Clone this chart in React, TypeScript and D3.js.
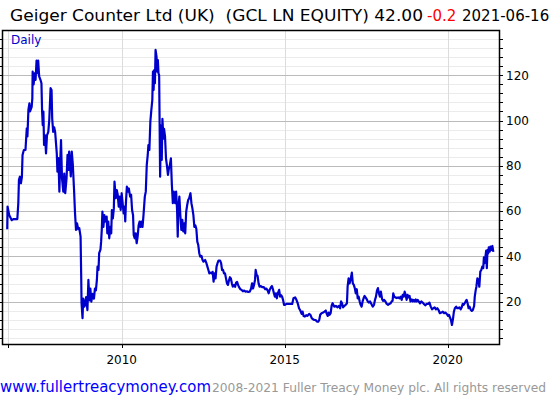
import React from "react";
import * as d3 from "d3";

// Decimal-year dates and closing prices (GBp)
const years: number[] = [
  2006.49, 2006.5, 2006.55, 2006.63, 2006.68, 2006.8, 2006.83, 2006.85, 2006.88, 2006.91, 2006.94, 2006.96,
  2007.0, 2007.05, 2007.09, 2007.11, 2007.14, 2007.17, 2007.19, 2007.24, 2007.26, 2007.27, 2007.3, 2007.33,
  2007.36, 2007.39, 2007.41, 2007.44, 2007.47, 2007.51, 2007.54, 2007.56, 2007.58, 2007.6, 2007.62, 2007.65,
  2007.68, 2007.71, 2007.75, 2007.78, 2007.82, 2007.85, 2007.87, 2007.9, 2007.93, 2007.96, 2008.01, 2008.03,
  2008.06, 2008.09, 2008.11, 2008.14, 2008.17, 2008.21, 2008.24, 2008.27, 2008.31, 2008.34, 2008.37, 2008.39,
  2008.44, 2008.47, 2008.5, 2008.54, 2008.57, 2008.6, 2008.63, 2008.67, 2008.7, 2008.74, 2008.76, 2008.77,
  2008.8, 2008.82, 2008.86, 2008.91, 2008.95, 2008.98, 2009.01, 2009.04, 2009.07, 2009.11, 2009.15, 2009.18,
  2009.21, 2009.24, 2009.26, 2009.29, 2009.31, 2009.35, 2009.37, 2009.39, 2009.41, 2009.44, 2009.47, 2009.5,
  2009.54, 2009.56, 2009.59, 2009.62, 2009.65, 2009.68, 2009.7, 2009.73, 2009.76, 2009.78, 2009.82, 2009.85,
  2009.88, 2009.91, 2009.94, 2009.97, 2010.0, 2010.03, 2010.06, 2010.09, 2010.11, 2010.13, 2010.16, 2010.19,
  2010.22, 2010.26, 2010.29, 2010.32, 2010.35, 2010.37, 2010.4, 2010.43, 2010.46, 2010.49, 2010.52, 2010.55,
  2010.58, 2010.61, 2010.64, 2010.67, 2010.71, 2010.74, 2010.77, 2010.8, 2010.82, 2010.85, 2010.88, 2010.91,
  2010.94, 2010.96, 2010.98, 2011.0, 2011.02, 2011.04, 2011.07, 2011.09, 2011.11, 2011.13, 2011.15, 2011.18,
  2011.2, 2011.23, 2011.25, 2011.28, 2011.3, 2011.33, 2011.36, 2011.39, 2011.42, 2011.45, 2011.48, 2011.51,
  2011.54, 2011.57, 2011.6, 2011.64, 2011.67, 2011.7, 2011.72, 2011.74, 2011.77, 2011.8, 2011.83, 2011.86,
  2011.89, 2011.92, 2011.95, 2011.98, 2012.01, 2012.04, 2012.07, 2012.11, 2012.14, 2012.17, 2012.2, 2012.23,
  2012.26, 2012.29, 2012.32, 2012.35, 2012.38, 2012.41, 2012.45, 2012.48, 2012.51, 2012.56, 2012.6, 2012.63,
  2012.66, 2012.69, 2012.73, 2012.76, 2012.79, 2012.82, 2012.85, 2012.88, 2012.91, 2012.94, 2012.97, 2013.02,
  2013.05, 2013.08, 2013.11, 2013.14, 2013.17, 2013.2, 2013.23, 2013.26, 2013.29, 2013.32, 2013.35, 2013.38,
  2013.41, 2013.45, 2013.48, 2013.51, 2013.54, 2013.57, 2013.6, 2013.64, 2013.68, 2013.72, 2013.76, 2013.8,
  2013.84, 2013.88, 2013.93, 2013.97, 2014.0, 2014.03, 2014.06, 2014.09, 2014.11, 2014.14, 2014.17, 2014.2,
  2014.23, 2014.27, 2014.31, 2014.36, 2014.4, 2014.44, 2014.48, 2014.51, 2014.54, 2014.58, 2014.61, 2014.64,
  2014.67, 2014.7, 2014.73, 2014.76, 2014.79, 2014.83, 2014.86, 2014.89, 2014.92, 2014.95, 2014.98, 2015.01,
  2015.05, 2015.11, 2015.17, 2015.23, 2015.27, 2015.32, 2015.36, 2015.4, 2015.44, 2015.48, 2015.52, 2015.55,
  2015.58, 2015.62, 2015.66, 2015.7, 2015.75, 2015.79, 2015.83, 2015.87, 2015.91, 2015.95, 2015.99, 2016.03,
  2016.06, 2016.09, 2016.13, 2016.18, 2016.22, 2016.26, 2016.29, 2016.32, 2016.35, 2016.38, 2016.41, 2016.44,
  2016.47, 2016.52, 2016.57, 2016.62, 2016.66, 2016.7, 2016.73, 2016.76, 2016.79, 2016.83, 2016.87, 2016.91,
  2016.93, 2016.96, 2016.99, 2017.02, 2017.06, 2017.09, 2017.12, 2017.15, 2017.18, 2017.21, 2017.24, 2017.27,
  2017.3, 2017.33, 2017.36, 2017.39, 2017.42, 2017.45, 2017.48, 2017.52, 2017.55, 2017.58, 2017.62, 2017.66,
  2017.7, 2017.74, 2017.77, 2017.8, 2017.83, 2017.86, 2017.89, 2017.92, 2017.95, 2017.99, 2018.02, 2018.05,
  2018.09, 2018.13, 2018.17, 2018.21, 2018.25, 2018.28, 2018.31, 2018.33, 2018.36, 2018.39, 2018.44, 2018.48,
  2018.52, 2018.56, 2018.59, 2018.62, 2018.65, 2018.68, 2018.71, 2018.74, 2018.77, 2018.8, 2018.83, 2018.86,
  2018.9, 2018.93, 2018.96, 2018.99, 2019.02, 2019.05, 2019.08, 2019.11, 2019.15, 2019.19, 2019.23, 2019.27,
  2019.31, 2019.36, 2019.4, 2019.44, 2019.48, 2019.52, 2019.56, 2019.6, 2019.64, 2019.68, 2019.72, 2019.76,
  2019.81, 2019.85, 2019.89, 2019.93, 2019.97, 2020.01, 2020.04, 2020.07, 2020.1, 2020.13, 2020.16, 2020.19,
  2020.22, 2020.26, 2020.29, 2020.32, 2020.36, 2020.4, 2020.43, 2020.46, 2020.49, 2020.52, 2020.55, 2020.58,
  2020.61, 2020.64, 2020.67, 2020.71, 2020.74, 2020.77, 2020.81, 2020.83, 2020.86, 2020.88, 2020.91, 2020.94,
  2020.97, 2021.0, 2021.03, 2021.06, 2021.09, 2021.11, 2021.13, 2021.16, 2021.18, 2021.2, 2021.22, 2021.24,
  2021.26, 2021.29, 2021.31, 2021.34, 2021.37, 2021.4,
];

const prices: number[] = [
  52, 62, 58.3, 56, 56.5, 56.5, 63.5, 73.8, 75.2, 72.3, 75, 84.8,
  87, 87, 96.6, 93, 104.7, 107.6, 104, 106, 109.8, 121.6, 116, 120.9,
  118, 126.5, 120.9, 126.5, 119.5, 118, 116.5, 104, 98, 104, 89.2, 93.5,
  85.5, 93.5, 95, 100.3, 114.3, 113.5, 100.8, 95, 97, 95, 85.5, 77.4,
  83.4, 68.6, 79.5, 91.4, 74.6, 68.6, 76.6, 67.9, 74.6, 84.9, 78.2, 86.3,
  75.3, 86.3, 81, 69.3, 59, 51.7, 54.6, 52, 52.5, 48.7, 30.3, 19.3,
  12.7, 21.3, 17.8, 22, 16.3, 29.6, 20.6, 25.8, 20, 23.5, 21.3, 25.8,
  25, 29.6, 35.5, 34, 41.4, 43, 46.5, 51.7, 59.8, 53, 58.2, 55.4,
  57.6, 50.2, 55.4, 48, 53, 50.2, 60.5, 56.8, 61.2, 73, 65.7, 69.3,
  67.2, 62, 66.4, 60.5, 67.9, 63.5, 59, 62, 55.4, 63.5, 70.8, 68.6,
  70, 66.4, 67.2, 60.5, 58.2, 49.5, 48, 50.2, 45.8, 48.7, 53.7, 55.4,
  53, 55.4, 53, 58.2, 66.4, 68.6, 80.4, 84.8, 89.2, 87, 99.5, 104.6,
  109, 121.6, 113.5, 122.3, 116.5, 131.2, 128.2, 121.6, 126.7, 120.9, 120, 75.2,
  97.8, 82.6, 100.8, 92, 96.3, 93, 83.3, 80, 76, 78.9, 80.4, 83.3,
  71.6, 63.5, 68.6, 63.5, 68.6, 60.5, 48.7, 62, 66.4, 58.2, 51.7, 56.1,
  51, 54.6, 50.2, 59.8, 62.7, 64.9, 65.7, 67.9, 63.5, 61.2, 58.2, 53,
  53.7, 52.2, 46.5, 45, 41.4, 39.9, 40.2, 38.4, 37.7, 38.4, 37, 35.5,
  34, 32.5, 32.8, 32.5, 33.2, 28.8, 32.5, 30.3, 35.5, 37, 38.1, 38.1,
  37, 34, 34, 32.5, 32.5, 30.3, 28.1, 27.4, 29.3, 30.8, 30.3, 28.1,
  26.6, 27.4, 26.6, 28.4, 28.7, 27.4, 26.4, 25.5, 25.2, 24.6, 24.9, 24.4,
  24.6, 24.3, 24.4, 25.8, 28.1, 25.8, 27.4, 29.6, 34, 31.8, 31.3, 28.1,
  26.6, 26.9, 26.4, 26.4, 25.5, 25.8, 24.9, 23.7, 25.2, 26.4, 26.9, 25.5,
  23.7, 22.2, 23.7, 21.5, 23.7, 25.2, 22.2, 22.9, 22.2, 20.8, 18.6, 18.6,
  19, 19, 19, 19, 21.5, 21.9, 20.8, 19.3, 17.1, 16.1, 14.6, 15.6,
  13.7, 13.4, 14, 13.7, 14.6, 14.2, 12.7, 12.2, 11.9, 11.9, 11.2, 11.2,
  11.9, 14.2, 14.9, 15.2, 15.6, 16.1, 14.6, 13.7, 15.2, 14.2, 14.9, 18.2,
  19.3, 17.8, 18.1, 17.5, 18.1, 17.1, 20.1, 19.3, 17.5, 18.1, 18.6, 19.3,
  26.6, 30.3, 28.1, 29.6, 32.8, 28.1, 27.4, 26, 23.7, 25.5, 21.5, 22.2,
  20.1, 18.6, 17.8, 20.1, 21.5, 22.5, 21.9, 21, 20.1, 19.6, 20.1, 19,
  17.8, 18.6, 20.8, 22.2, 24.9, 26, 23.7, 22.2, 24.4, 21, 20.4, 20.8,
  20.1, 19, 18.6, 19, 19.3, 20.1, 20.4, 23.7, 22.2, 21.9, 21.6, 21.9,
  21.5, 22.2, 20.8, 23, 22.2, 24.4, 23, 20.8, 23, 21.9, 22.5, 20.1,
  21, 20.1, 20.8, 20.1, 21, 20.1, 20.8, 20.1, 19.3, 20.1, 19.6, 19,
  18.4, 19, 19, 19.6, 17.8, 16.6, 17.1, 17.5, 16.6, 17.1, 16.3, 14.9,
  15.2, 15.6, 14.9, 15.2, 14.6, 13.7, 14.2, 13.1, 11.9, 9.7, 12.2, 15.6,
  17.1, 17.8, 17.1, 17.1, 17.5, 16.6, 17.5, 19, 18.6, 19.3, 20.1, 20.8,
  19.3, 17.1, 17.8, 16.3, 15.9, 16.3, 18.1, 22.2, 25.2, 26.6, 30.3, 29.6,
  26.6, 33.3, 34, 35.5, 34.8, 39.6, 37, 40.2, 42.5, 34.8, 42.8, 41.3,
  44, 42.1, 44.3, 42.8, 44.6, 42,
];

const yearTicks: number[] = [2006.5, 2010, 2015, 2020];
const yearTickLabels: string[] = ["", "2010", "2015", "2020"];
const priceMajorTicks: number[] = [20, 40, 60, 80, 100, 120];
const priceMinorStep = 4;

const titleMain = "Geiger Counter Ltd (UK)  (GCL LN EQUITY) 42.00";
const titleChange = "-0.2";
const titleDate = "2021-06-16";
const seriesLabel = "Daily";
const footerLink = "www.fullertreacymoney.com";
const footerCopy = "2008-2021 Fuller Treacy Money plc. All rights reserved";

const W = 550;
const H = 400;
const plot = { left: 2, right: 500, top: 30, bottom: 344 };
const FONT = "'DejaVu Sans', Verdana, sans-serif";
const LINE = "#0000cc";

export default function App() {
  const x = d3.scaleLinear().domain([2006.33, 2021.604]).range([plot.left, plot.right]);
  const y = d3.scaleLinear().domain([1.3, 140]).range([plot.bottom, plot.top]);

  const minorTicks = d3.range(priceMinorStep, 140, priceMinorStep);
  const data = years.map((yr, i) => ({ yr, v: prices[i] }));
  const line = d3
    .line<{ yr: number; v: number }>()
    .x((d) => x(d.yr))
    .y((d) => y(d.v));

  return (
    <svg
      width={W}
      height={H}
      style={{ position: "absolute", left: 0, top: 0, background: "#fff" }}
      fontFamily={FONT}
    >
      <rect x={0} y={0} width={W} height={H} fill="#fff" />
      {/* title */}
      <text x={10} y={21} fontSize={15} fill="#000" xmlSpace="preserve" textLength={413} lengthAdjust="spacingAndGlyphs">
        {titleMain}
      </text>
      <text x={427} y={21} fontSize={15} fill="#ff0000">
        {titleChange}
      </text>
      <text x={462} y={21} fontSize={15} fill="#000">
        {titleDate}
      </text>

      {/* minor horizontal grid */}
      {minorTicks
        .filter((t) => t % 20 !== 0)
        .map((t) => (
          <line key={"mg" + t} x1={plot.left} x2={plot.right} y1={Math.round(y(t)) + 0.5} y2={Math.round(y(t)) + 0.5} stroke="#ebebeb" strokeWidth={1} />
        ))}
      {/* vertical grid */}
      {yearTicks.map((t) => (
        <line key={"vg" + t} x1={Math.round(x(t)) + 0.5} x2={Math.round(x(t)) + 0.5} y1={plot.top} y2={plot.bottom} stroke="#dcdcdc" strokeWidth={1} />
      ))}
      {/* major horizontal grid */}
      {priceMajorTicks.map((t) => (
        <line key={"Mg" + t} x1={plot.left} x2={plot.right} y1={Math.round(y(t)) + 0.5} y2={Math.round(y(t)) + 0.5} stroke="#bbbbbb" strokeWidth={1} />
      ))}

      <text x={11} y={44} fontSize={12} fill={LINE}>
        {seriesLabel}
      </text>

      {/* price line */}
      <path d={line(data) || ""} fill="none" stroke={LINE} strokeWidth={2.2} strokeLinejoin="round" />

      {/* frame */}
      <rect x={plot.left + 0.5} y={plot.top + 0.5} width={plot.right - plot.left - 1} height={plot.bottom - plot.top} fill="none" stroke="#000" strokeWidth={1.5} />

      {/* axis ticks + labels */}
      {minorTicks.map((t) => (
        <line key={"rt" + t} x1={plot.right} x2={plot.right + 3} y1={Math.round(y(t)) + 0.5} y2={Math.round(y(t)) + 0.5} stroke="#000" strokeWidth={1} />
      ))}
      {minorTicks.map((t) => (
        <line key={"lt" + t} x1={0} x2={plot.left} y1={Math.round(y(t)) + 0.5} y2={Math.round(y(t)) + 0.5} stroke="#000" strokeWidth={1} />
      ))}
      {priceMajorTicks.map((t) => (
        <text key={"rl" + t} x={506} y={y(t)} dy="0.36em" fontSize={12} fill="#000">
          {t}
        </text>
      ))}

      {yearTicks.map((t, i) => (
        <g key={"bt" + t}>
          <line x1={Math.round(x(t)) + 0.5} x2={Math.round(x(t)) + 0.5} y1={plot.bottom} y2={plot.bottom + 4} stroke="#000" strokeWidth={1} />
          <text x={x(t)} y={364} fontSize={12} textAnchor="middle" fill="#000">
            {yearTickLabels[i]}
          </text>
        </g>
      ))}

      {/* footer */}
      <text x={0} y={392} fontSize={15} fill="#0000ff" textLength={211} lengthAdjust="spacingAndGlyphs">
        {footerLink}
      </text>
      <text x={212} y={392} fontSize={12.2} fill="#999999" textLength={334} lengthAdjust="spacingAndGlyphs">
        {footerCopy}
      </text>
    </svg>
  );
}
